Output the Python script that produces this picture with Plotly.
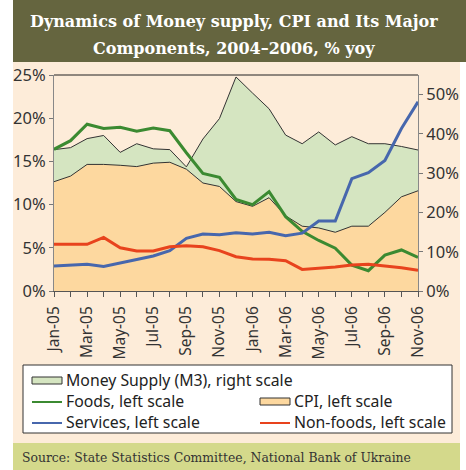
import plotly.graph_objects as go

# ---------------- data ----------------
months = ['Jan-05', 'Feb-05', 'Mar-05', 'Apr-05', 'May-05', 'Jun-05', 'Jul-05', 'Aug-05',
          'Sep-05', 'Oct-05', 'Nov-05', 'Dec-05', 'Jan-06', 'Feb-06', 'Mar-06', 'Apr-06',
          'May-06', 'Jun-06', 'Jul-06', 'Aug-06', 'Sep-06', 'Oct-06', 'Nov-06']
money_supply = [36.0, 36.5, 38.8, 39.6, 35.3, 37.5, 36.2, 36.0, 31.6, 38.7, 43.9, 54.5,
                50.4, 46.4, 39.7, 37.5, 40.5, 37.2, 39.3, 37.5, 37.5, 36.8, 35.9]
cpi = [12.65, 13.3, 14.65, 14.65, 14.55, 14.4, 14.8, 14.9, 14.1, 12.5, 12.1, 10.35,
       9.8, 10.8, 8.7, 7.5, 7.3, 6.8, 7.5, 7.5, 9.1, 10.9, 11.6]
foods = [16.4, 17.4, 19.3, 18.8, 18.95, 18.5, 18.85, 18.55, 16.0, 13.6, 13.15, 10.6,
         10.0, 11.5, 8.6, 6.9, 5.85, 4.95, 3.0, 2.35, 4.15, 4.75, 3.9]
services = [2.9, 3.0, 3.1, 2.85, 3.27, 3.66, 4.05, 4.67, 6.1, 6.6, 6.5, 6.75,
            6.6, 6.8, 6.4, 6.7, 8.1, 8.1, 13.0, 13.7, 15.1, 18.8, 21.9]
non_foods = [5.4, 5.4, 5.4, 6.2, 5.0, 4.63, 4.63, 5.13, 5.25, 5.13, 4.67, 3.97,
             3.7, 3.67, 3.5, 2.5, 2.6, 2.77, 3.0, 3.1, 2.9, 2.7, 2.4]
x_tick_labels = [m if i % 2 == 0 else '' for i, m in enumerate(months)]
left_ticks = [0, 5, 10, 15, 20, 25]
left_tick_labels = ['0%', '5%', '10%', '15%', '20%', '25%']
right_ticks = [0, 10, 20, 30, 40, 50]
right_tick_labels = ['0%', '10%', '20%', '30%', '40%', '50%']

title_line1 = "Dynamics of Money supply, CPI and Its Major"
title_line2 = "Components, 2004\u20132006, % yoy"
source_text = "Source: State Statistics Committee, National Bank of Ukraine"

# ---------------- styles ----------------
W, H = 466, 470
C_TITLE = '#65653F'
C_BG = '#FDECD9'
C_SRC = '#D4D98B'
C_M3 = '#D5E5C1'
C_CPI = '#FDD89F'
C_FOODS = '#3B8A31'
C_SERV = '#4767AD'
C_NONF = '#E8431D'
SANS = 'Noto Sans, Open Sans, sans-serif'
SERIF = 'DejaVu Serif'


def px(x):
    return x / W


def py(y):
    return 1 - y / H


fig = go.Figure()
fig.add_trace(go.Scatter(x=months, y=money_supply, yaxis='y', mode='lines',
                         fill='tozeroy', fillcolor=C_M3,
                         line=dict(color='#333333', width=1), showlegend=False))
fig.add_trace(go.Scatter(x=months, y=cpi, yaxis='y2', mode='lines',
                         fill='tozeroy', fillcolor=C_CPI,
                         line=dict(color='#333333', width=1), showlegend=False))
fig.add_trace(go.Scatter(x=months, y=foods, yaxis='y2', mode='lines',
                         line=dict(color=C_FOODS, width=3), showlegend=False))
fig.add_trace(go.Scatter(x=months, y=services, yaxis='y2', mode='lines',
                         line=dict(color=C_SERV, width=3), showlegend=False))
fig.add_trace(go.Scatter(x=months, y=non_foods, yaxis='y2', mode='lines',
                         line=dict(color=C_NONF, width=3), showlegend=False))

x0, x1 = 54, 418
y_top, y_bot = 75, 291

shapes = [
    dict(type='rect', xref='paper', yref='paper', x0=px(13), x1=px(466), y0=py(0), y1=py(62),
         fillcolor=C_TITLE, line=dict(width=0), layer='below'),
    dict(type='rect', xref='paper', yref='paper', x0=px(13), x1=px(460), y0=py(62), y1=py(443),
         fillcolor=C_BG, line=dict(width=0), layer='below'),
    dict(type='rect', xref='paper', yref='paper', x0=px(13), x1=px(460), y0=py(443), y1=py(470),
         fillcolor=C_SRC, line=dict(width=0), layer='below'),
    # plot top border
    dict(type='line', xref='paper', yref='paper', x0=px(x0), x1=px(x1), y0=py(y_top), y1=py(y_top),
         line=dict(color='#222222', width=1)),
    # legend box
    dict(type='rect', xref='paper', yref='paper', x0=px(23), x1=px(452), y0=py(365), y1=py(433),
         fillcolor='white', line=dict(color='#333333', width=1)),
    # legend swatches
    dict(type='rect', xref='paper', yref='paper', x0=px(32), x1=px(62), y0=py(377), y1=py(384),
         fillcolor=C_M3, line=dict(color='#333333', width=1)),
    dict(type='line', xref='paper', yref='paper', x0=px(32), x1=px(62), y0=py(402), y1=py(402),
         line=dict(color=C_FOODS, width=2)),
    dict(type='rect', xref='paper', yref='paper', x0=px(260), x1=px(290), y0=py(398), y1=py(405),
         fillcolor=C_CPI, line=dict(color='#333333', width=1)),
    dict(type='line', xref='paper', yref='paper', x0=px(32), x1=px(62), y0=py(423), y1=py(423),
         line=dict(color=C_SERV, width=2)),
    dict(type='line', xref='paper', yref='paper', x0=px(260), x1=px(290), y0=py(423), y1=py(423),
         line=dict(color=C_NONF, width=2)),
]

leg_font = dict(family=SANS, size=15.8, color='#222222')
title_font = dict(family=SERIF, size=16, color='white', weight='bold')
annotations = [
    dict(text=title_line1, xref='paper', yref='paper', x=px(234), y=py(22), xanchor='center',
         yanchor='middle', showarrow=False, font=title_font),
    dict(text=title_line2, xref='paper', yref='paper', x=px(234), y=py(49), xanchor='center',
         yanchor='middle', showarrow=False, font=title_font),
    dict(text=source_text, xref='paper', yref='paper', x=px(20), y=py(457), xanchor='left',
         yanchor='middle', showarrow=False, font=dict(family=SERIF, size=12.4, color='#333333')),
    dict(text='Money Supply (M3), right scale', xref='paper', yref='paper', x=px(64), y=py(380),
         xanchor='left', yanchor='middle', showarrow=False, font=leg_font),
    dict(text='Foods, left scale', xref='paper', yref='paper', x=px(64), y=py(401),
         xanchor='left', yanchor='middle', showarrow=False, font=leg_font),
    dict(text='CPI, left scale', xref='paper', yref='paper', x=px(292), y=py(401),
         xanchor='left', yanchor='middle', showarrow=False, font=leg_font),
    dict(text='Services, left scale', xref='paper', yref='paper', x=px(64), y=py(422),
         xanchor='left', yanchor='middle', showarrow=False, font=leg_font),
    dict(text='Non-foods, left scale', xref='paper', yref='paper', x=px(292), y=py(422),
         xanchor='left', yanchor='middle', showarrow=False, font=leg_font),
]

fig.update_layout(
    width=W, height=H,
    margin=dict(l=0, r=0, t=0, b=0, autoexpand=False),
    paper_bgcolor='white', plot_bgcolor='rgba(0,0,0,0)',
    showlegend=False,
    shapes=shapes, annotations=annotations,
    xaxis=dict(domain=[px(x0), px(x1)], type='category', range=[0, len(months) - 1],
               tickmode='array', tickvals=months, ticktext=x_tick_labels, tickangle=-90,
               ticks='outside', ticklen=5, tickcolor='#555555', showline=True,
               linecolor='#555555', linewidth=1, showgrid=False, zeroline=False,
               automargin=False, ticklabelstandoff=3,
               tickfont=dict(family=SANS, size=15.5, color='#333333'), fixedrange=True),
    yaxis=dict(domain=[py(y_bot), py(y_top)], side='right', range=[0, 55],
               tickmode='array', tickvals=right_ticks, ticktext=right_tick_labels,
               ticks='outside', ticklen=4, tickcolor='#777777', showline=True,
               linecolor='#888888', linewidth=1, showgrid=False, zeroline=False,
               automargin=False,
               tickfont=dict(family=SANS, size=16.5, color='#333333'), fixedrange=True),
    yaxis2=dict(overlaying='y', side='left', range=[0, 25], anchor='x',
                tickmode='array', tickvals=left_ticks, ticktext=left_tick_labels,
                ticks='outside', ticklen=4, tickcolor='#777777', showline=True,
                linecolor='#888888', linewidth=1, showgrid=False, zeroline=False,
                automargin=False,
                tickfont=dict(family=SANS, size=16.5, color='#333333'), fixedrange=True),
)

fig.write_html("out.html", config={'displayModeBar': False},
               post_script="document.body.style.margin='0px';document.body.style.overflow='hidden';")
